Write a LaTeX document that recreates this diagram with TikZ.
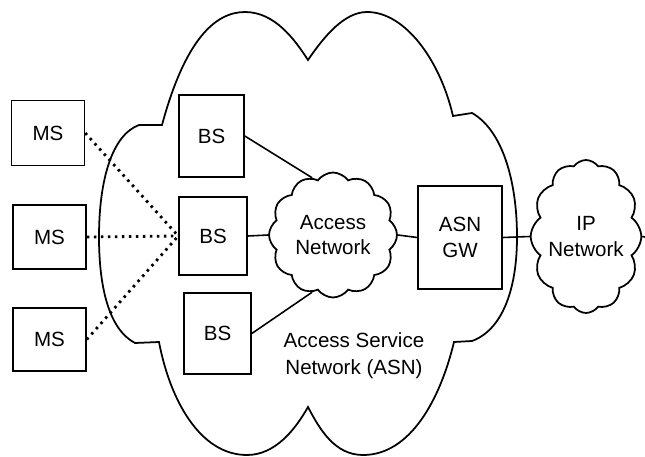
\documentclass[tikz,border=0pt]{standalone}
\usepackage{fontspec}
\setmainfont{Liberation Sans}
\usepackage{tikz}
\usetikzlibrary{shapes.symbols}

\begin{document}
\begin{tikzpicture}[x=0.02cm,y=-0.02cm]
  \tikzstyle{box}=[draw,line width=0.9pt,rectangle,align=center,inner sep=0pt]
  \tikzstyle{puff}=[draw,line width=1pt,cloud,cloud puffs=12,cloud puff arc=110,cloud ignores aspect,align=center,inner sep=0pt]
  \tikzstyle{lnk}=[line width=0.9pt]
  \tikzstyle{air}=[line width=1.6pt,dash pattern=on 0.05cm off 0.09cm]
  \tikzset{every node/.style={font=\fontsize{11.7}{14.5}\selectfont}}
  \useasboundingbox (0,0) rectangle (645,456);

  % ASN cloud
  \draw[line width=1pt] (162,125) .. controls (185,40) and (215,12) .. (245,12)
    .. controls (275,12) and (295,40) .. (308,60)
    .. controls (325,35) and (345,12) .. (367,12)
    .. controls (405,12) and (440,60) .. (453,116) -- (472,113)
    .. controls (502,130) and (517,180) .. (517,237)
    .. controls (517,290) and (502,330) .. (472,341) -- (454,342)
    .. controls (440,400) and (410,455) .. (363,455)
    .. controls (335,455) and (320,430) .. (308,407)
    .. controls (295,430) and (275,455) .. (247,455)
    .. controls (200,455) and (170,400) .. (159,342) -- (135,343)
    .. controls (110,330) and (99,290) .. (99,237)
    .. controls (99,180) and (112,135) .. (139,125) -- cycle;
  \node[align=center,font=\fontsize{11.7}{15.3}\selectfont] (asn) at (354,356) {Access Service\\Network (ASN)};

  % Mobile stations
  \node[box,minimum width=1.46cm,minimum height=1.3cm] (ms1) at (48,133) {MS};
  \node[box,minimum width=1.46cm,minimum height=1.28cm] (ms2) at (49.5,237) {MS};
  \node[box,minimum width=1.46cm,minimum height=1.26cm] (ms3) at (49.5,339.5) {MS};

  % Base stations
  \node[box,minimum width=1.3cm,minimum height=1.64cm] (bs1) at (211.5,136) {BS};
  \node[box,minimum width=1.36cm,minimum height=1.56cm] (bs2) at (213,236) {BS};
  \node[box,minimum width=1.34cm,minimum height=1.62cm] (bs3) at (217.5,333.5) {BS};

  % Access network, gateway, IP network
  \node[puff,minimum width=2.56cm,minimum height=2.5cm] (acc) at (333,235) {Access\\Network};
  \node[box,minimum width=1.68cm,minimum height=2.06cm] (gw) at (460,237.5) {ASN\\GW};
  \node[puff,minimum width=2.16cm,minimum height=3.06cm] (ip) at (586,236.5) {IP\\Network};
  \coordinate (out) at (645,237);

  % Air links
  \draw[air] (ms1.east) -- (bs2.west);
  \draw[air] (ms2.east) -- (bs2.west);
  \draw[air] (ms3.east) -- (bs2.west);

  % Wired links
  \draw[lnk] (bs1.east) -- (acc.110);
  \draw[lnk] (bs2.east) -- (acc.west);
  \draw[lnk] (bs3.east) -- (acc.250);
  \draw[lnk] (acc.east) -- (gw.west);
  \draw[lnk] (gw.east) -- (ip.west);
  \draw[lnk] (ip.east) -- (out);
\end{tikzpicture}
\end{document}
